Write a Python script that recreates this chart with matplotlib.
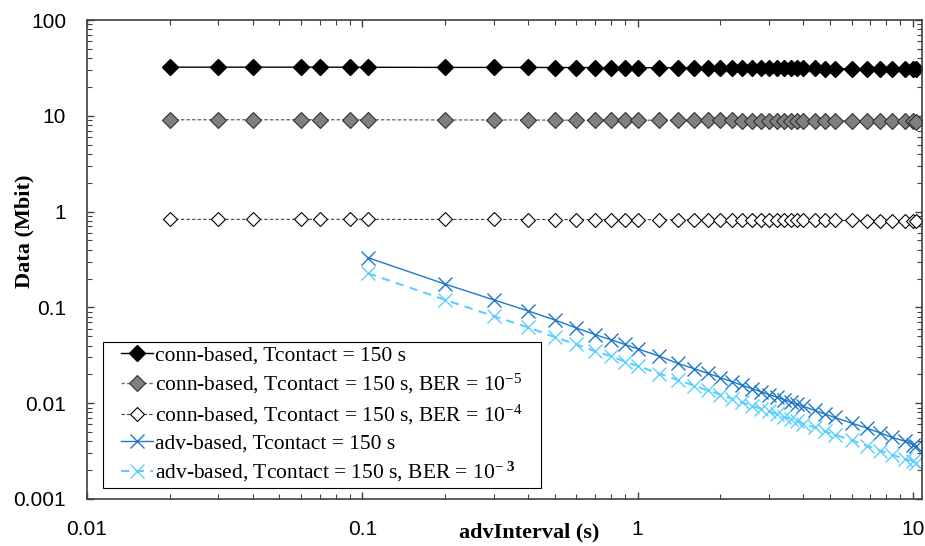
import matplotlib
matplotlib.use('Agg')
import matplotlib.pyplot as plt
from matplotlib.patches import Rectangle
from matplotlib.ticker import LogLocator, NullFormatter

plt.rcParams['font.family'] = ['Liberation Sans', 'DejaVu Sans']
plt.rcParams['mathtext.fontset'] = 'custom'
plt.rcParams['mathtext.rm'] = 'Liberation Serif'
plt.rcParams['mathtext.it'] = 'Liberation Serif:italic'
plt.rcParams['mathtext.bf'] = 'Liberation Serif:bold'

# advInterval values (s)
conn_x = [0.02, 0.03, 0.04, 0.06, 0.07, 0.09, 0.105, 0.2, 0.3, 0.4, 0.5, 0.6, 0.7, 0.8,
          0.9, 1.0, 1.2, 1.4, 1.6, 1.8, 2.0, 2.2, 2.4, 2.6, 2.8, 3.0, 3.2, 3.4, 3.6, 3.8,
          4.0, 4.4, 4.8, 5.2, 6.0, 6.8, 7.6, 8.4, 9.4, 10.0, 10.24]
adv_x = conn_x[6:]

# data (Mbit)
conn = [32.2, 32.2, 32.2, 32.2, 32.2, 32.1, 32.1, 32.0, 32.0, 32.0, 31.9, 31.9, 31.9, 31.8,
        31.8, 31.8, 31.7, 31.7, 31.6, 31.6, 31.6, 31.5, 31.5, 31.5, 31.4, 31.4, 31.4, 31.3,
        31.3, 31.3, 31.2, 31.2, 31.1, 31.1, 31.0, 30.9, 30.9, 30.8, 30.7, 30.7, 30.6]
conn_ber5 = [9.1, 9.1, 9.1, 9.1, 9.1, 9.1, 9.1, 9.05, 9.05, 9.05, 9.0, 9.0, 9.0, 9.0,
             9.0, 9.0, 8.98, 8.98, 8.96, 8.96, 8.95, 8.94, 8.93, 8.92, 8.92, 8.91, 8.9, 8.9,
             8.89, 8.88, 8.88, 8.86, 8.85, 8.84, 8.82, 8.8, 8.78, 8.76, 8.74, 8.72, 8.7]
conn_ber4 = [0.83, 0.83, 0.83, 0.83, 0.83, 0.83, 0.83, 0.828, 0.828, 0.827, 0.826, 0.826, 0.825, 0.825,
             0.824, 0.824, 0.823, 0.822, 0.822, 0.821, 0.82, 0.82, 0.819, 0.818, 0.818, 0.817, 0.816, 0.816,
             0.815, 0.814, 0.814, 0.812, 0.811, 0.81, 0.808, 0.806, 0.804, 0.802, 0.8, 0.799, 0.798]
adv = [0.33, 0.175, 0.12, 0.092, 0.074, 0.061, 0.052, 0.046, 0.041, 0.037, 0.031, 0.026,
       0.023, 0.0205, 0.0185, 0.0168, 0.0154, 0.0142, 0.0132, 0.0123, 0.0116, 0.0109, 0.0103,
       0.0097, 0.0093, 0.0084, 0.0077, 0.0071, 0.0062, 0.0055, 0.0049, 0.0044, 0.004, 0.0037, 0.0036]
adv_ber3 = [0.227, 0.12, 0.081, 0.062, 0.049, 0.041, 0.035, 0.031, 0.0272, 0.0245, 0.0204, 0.0175,
            0.0153, 0.0136, 0.0123, 0.0111, 0.0102, 0.0094, 0.0088, 0.0082, 0.0077, 0.0072, 0.0068,
            0.0065, 0.0061, 0.0056, 0.0051, 0.0047, 0.0041, 0.0036, 0.0032, 0.0029, 0.0026, 0.0025, 0.0024]

labels = [r'conn-based, Tcontact = 150 s',
          r'conn-based, Tcontact = 150 s, BER = 10$^{-5}$',
          r'conn-based, Tcontact = 150 s, BER = 10$^{-4}$',
          r'adv-based, Tcontact = 150 s',
          r'adv-based, Tcontact = 150 s, BER = 10$^{-\ \mathbf{3}}$']

x_ticks = [0.01, 0.1, 1, 10]
x_tick_labels = ['0.01', '0.1', '1', '10']
y_ticks = [0.001, 0.01, 0.1, 1, 10, 100]
y_tick_labels = ['0.001', '0.01', '0.1', '1', '10', '100']

fig = plt.figure(figsize=(9.25, 5.46), dpi=100)
ax = fig.add_axes([87 / 925, 47 / 546, 835 / 925, 479 / 546])

ax.plot(conn_x, conn, color='black', lw=1.0, marker='D', ms=8,
        mfc='black', mec='black', label=labels[0])
ax.plot(conn_x, conn_ber5, color='#707070', lw=1.0, ls=(0, (2.5, 1.5)), marker='D', ms=8,
        mfc='#808080', mec='#303030', mew=0.8, label=labels[1])
ax.plot(conn_x, conn_ber4, color='#404040', lw=0.8, ls=(0, (3, 2)), marker='D', ms=7.5,
        mfc='white', mec='black', mew=0.8, label=labels[2])
ax.plot(adv_x, adv, color='#1f78c8', lw=1.0, marker='x', ms=10, mew=1.0, label=labels[3])
ax.plot(adv_x, adv_ber3, color='#5ccfff', lw=1.5, ls=(0, (4, 3)), marker='x', ms=10, mew=1.0,
        label=labels[4])

ax.set_xscale('log')
ax.set_yscale('log')
ax.set_xlim(0.01, 10.8)
ax.set_ylim(0.001, 100)

ax.set_xticks(x_ticks)
ax.set_xticklabels(x_tick_labels)
ax.set_yticks(y_ticks)
ax.set_yticklabels(y_tick_labels)
ax.xaxis.set_minor_locator(LogLocator(base=10, subs=range(2, 10)))
ax.yaxis.set_minor_locator(LogLocator(base=10, subs=range(2, 10)))
ax.xaxis.set_minor_formatter(NullFormatter())
ax.yaxis.set_minor_formatter(NullFormatter())

ax.tick_params(which='both', direction='in', top=True, right=True, color='#404040',
               labelsize=15, pad=15)
ax.tick_params(which='major', length=5, width=1.0)
ax.tick_params(which='minor', length=3.5, width=0.8)
for s in ax.spines.values():
    s.set_color('#404040')
    s.set_linewidth(1.2)

ax.set_xlabel('advInterval (s)', fontsize=16, fontweight='bold', family='Liberation Serif')
ax.xaxis.set_label_coords(0.53, -0.048)
ax.set_ylabel('Data (Mbit)', fontsize=16, fontweight='bold', family='Liberation Serif')
ax.yaxis.set_label_coords(-0.063, 0.56)

# legend without frame, box drawn a bit wider like the original
leg = ax.legend(loc='lower left', bbox_to_anchor=(0.0355, 0.022), borderaxespad=0,
                prop={'family': 'Liberation Serif', 'size': 15.5}, frameon=False,
                handlelength=1.5, handletextpad=0.1, labelspacing=0.3, borderpad=0.2)

fig.canvas.draw()
bb = leg.get_window_extent()
W, H = fig.get_size_inches() * fig.dpi
padx = 14
fig.add_artist(Rectangle(((bb.x0 - padx) / W, bb.y0 / H), (bb.width + 2 * padx) / W, bb.height / H,
                         transform=fig.transFigure, fill=False, edgecolor='black', lw=0.8))

fig.savefig('out.png', dpi=100)
